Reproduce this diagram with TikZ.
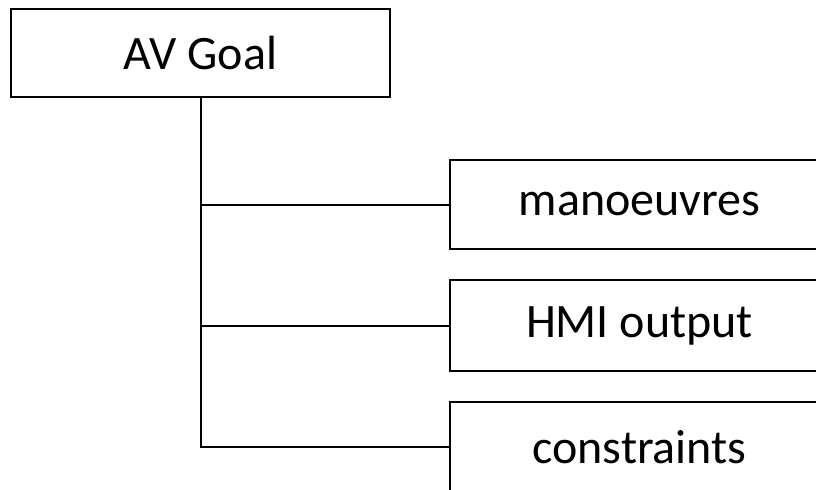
\documentclass[tikz,border=0pt]{standalone}
\usepackage{fontspec}
\setmainfont{Carlito}
\begin{document}
\begin{tikzpicture}[x=0.75pt,y=-0.75pt,
  box/.style={draw=black,line width=1.8pt,rectangle,minimum width=379*0.75pt,inner sep=0pt,
    font=\fontsize{36}{43}\selectfont,fill=white},
  link/.style={draw=black,line width=1.5pt}]
\useasboundingbox (0,0) rectangle (816,489);
\clip (0,0) rectangle (816,489);
\fill[white] (0,0) rectangle (816,489);
\node[box,minimum height=88*0.75pt] (goal) at (200.5,53) {AV Goal};
\node[box,minimum height=89*0.75pt] (b1) at (639.5,204.5) {manoeuvres};
\node[box,minimum height=91*0.75pt] (b2) at (639.5,325.5) {HMI output};
\node[box,minimum height=90*0.75pt] (b3) at (639.5,447) {constraints};
\draw[link] (goal.south) |- (b3.west);
\draw[link] (goal.south |- b1.west) -- (b1.west);
\draw[link] (goal.south |- b2.west) -- (b2.west);
\end{tikzpicture}
\end{document}
